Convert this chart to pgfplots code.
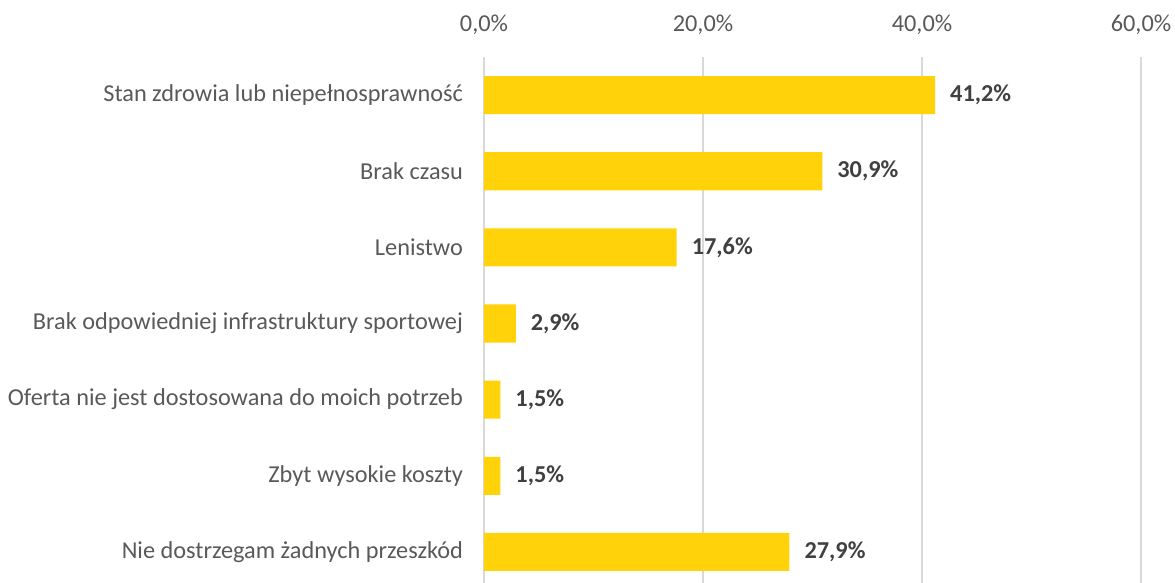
\documentclass[border=0pt]{standalone}
\usepackage{pgfplots}
\pgfplotsset{compat=1.18}
\usepackage{fontspec}
\setmainfont{Carlito}
\definecolor{barY}{RGB}{255,210,10}
\definecolor{txt}{RGB}{89,89,89}
\definecolor{lbl}{RGB}{64,64,64}
\definecolor{grd}{RGB}{217,217,217}
\begin{document}
\begin{tikzpicture}
\path[use as bounding box] (0,0) rectangle (587.5pt,291.5pt);
\begin{axis}[
  at={(242pt,-3.5pt)}, anchor=south west,
  scale only axis, width=328.5pt, height=266.5pt,
  xmin=0, xmax=60, ymin=-0.5, ymax=6.5, y dir=reverse,
  xtick={0,20,40,60},
  xticklabels={0{,}0\%,20{,}0\%,40{,}0\%,60{,}0\%},
  xticklabel pos=top,
  xmajorgrids, grid style={grd, line width=0.75pt},
  axis line style={draw=none}, major tick length=0pt,
  ytick={0,...,6},
  yticklabels={Stan zdrowia lub niepełnosprawność, Brak czasu, Lenistwo, Brak odpowiedniej infrastruktury sportowej, Oferta nie jest dostosowana do moich potrzeb, Zbyt wysokie koszty, Nie dostrzegam żadnych przeszkód},
  ticklabel style={font=\fontsize{12.15pt}{14pt}\selectfont, text=txt},
  yticklabel style={xshift=-7pt},
  xticklabel style={yshift=7.5pt},
  xbar, bar width=0.5,
  point meta=x,
  /pgf/number format/assume math mode=true,
  nodes near coords={\pgfmathprintnumber[fixed,fixed zerofill,precision=1,use comma,assume math mode=true]{\pgfplotspointmeta}\%},
  nodes near coords style={font=\bfseries\fontsize{12.15pt}{14pt}\selectfont, text=lbl, anchor=west, xshift=4pt},
  clip=false,
]
\addplot[fill=barY, draw=none] coordinates {
(41.2,0) (30.9,1) (17.6,2) (2.9,3) (1.5,4) (1.5,5) (27.9,6)
};
\end{axis}
\end{tikzpicture}
\end{document}
